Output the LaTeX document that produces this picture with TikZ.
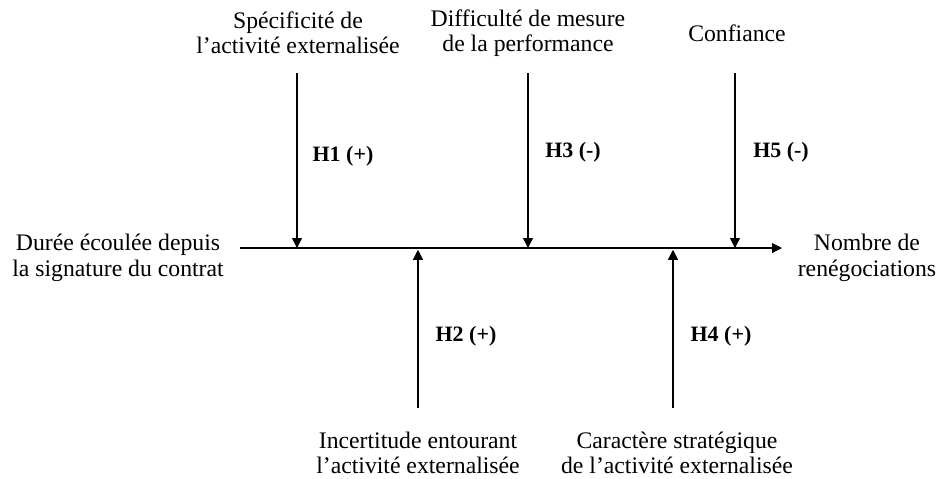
\documentclass[tikz,border=0pt]{standalone}
\usepackage{fontspec}
\setmainfont{Liberation Serif}
\usepackage{tikz}
\usetikzlibrary{arrows.meta,positioning}

\begin{document}
\begin{tikzpicture}[x=0.02cm,y=-0.02cm,
		every node/.style={font=\fontsize{13.5}{14.5}\selectfont,align=center,inner sep=0pt},
		hyp/.style={font=\fontsize{12.5}{14}\selectfont\bfseries},
		fleche/.style={draw,line width=0.6pt,-{Triangle[length=2mm,width=2mm]}}]
		\useasboundingbox (0,0) rectangle (938,478);
		% axe principal
		\coordinate (debut) at (240,248);
		\coordinate (fin) at (782,248);
		\node (duree) at (118,258) [] {Durée écoulée depuis\\la signature du contrat};
		\node (nombre) at (867,258) [] {Nombre de\\renégociations};
		\path [fleche] (debut) -> (fin);
		% facteurs du haut
		\node (spec) at (298,33) [] {Spécificité de\\l’activité externalisée};
		\node (diff) at (528,33) [] {Difficulté de mesure\\de la performance};
		\node (conf) at (737,33) [] {Confiance};
		\coordinate (h1) at (297,73);
		\coordinate (h3) at (528,73);
		\coordinate (h5) at (735,73);
		\path [fleche] (h1) -> (h1 |- debut);
		\path [fleche] (h3) -> (h3 |- debut);
		\path [fleche] (h5) -> (h5 |- debut);
		\node (l1) at (343,156) [hyp] {H1 (+)};
		\node (l3) at (573,152) [hyp] {H3 (-)};
		\node (l5) at (781,152) [hyp] {H5 (-)};
		% facteurs du bas
		\node (incert) at (418,453) [] {Incertitude entourant\\l’activité externalisée};
		\node (carac) at (677,453) [] {Caractère stratégique\\de l’activité externalisée};
		\coordinate (h2) at (418,408);
		\coordinate (h4) at (673,408);
		\path [fleche] (h2) -> ([yshift=-1pt]h2 |- debut);
		\path [fleche] (h4) -> ([yshift=-1pt]h4 |- debut);
		\node (l2) at (466,336) [hyp] {H2 (+)};
		\node (l4) at (721,336) [hyp] {H4 (+)};
\end{tikzpicture}
\end{document}
